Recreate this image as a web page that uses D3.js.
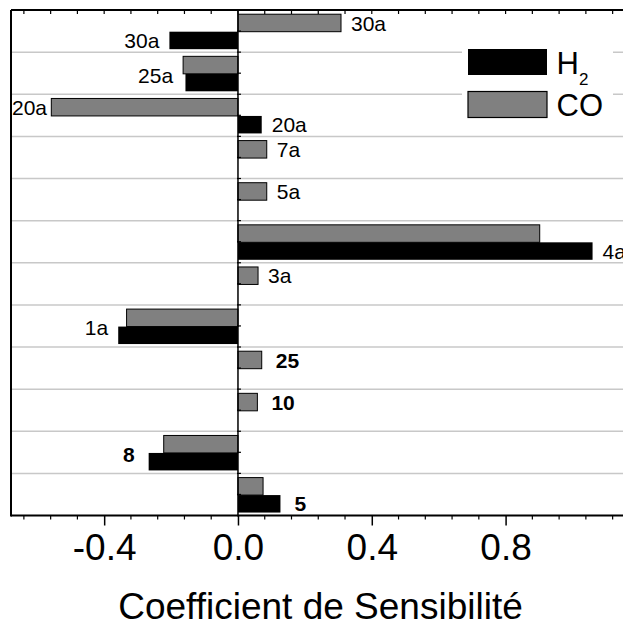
<!DOCTYPE html>
<html>
<head>
<meta charset="utf-8">
<script src="https://cdn.jsdelivr.net/npm/d3@7"></script>
<style>
  html, body { margin: 0; padding: 0; background: #fff; overflow: hidden; }
  svg { display: block; font-family: "Liberation Sans", Arial, sans-serif; }
</style>
</head>
<body>
<svg id="chart" width="623" height="626"></svg>
<script>
// ---- data ----
const categories = ["30a", "25a", "20a", "7a", "5a", "4a", "3a", "1a", "25", "10", "8", "5"];
const seriesNames = ["CO", "H2"];
const coValues = [0.308, -0.164, -0.558, 0.086, 0.086, 0.902, 0.060, -0.333, 0.071, 0.058, -0.222, 0.075];
const h2Values = [-0.205, -0.157, 0.071, 0, 0, 1.060, 0, -0.358, 0, 0, -0.267, 0.127];
const xTicks = [-0.4, 0.0, 0.4, 0.8];
const xTickLabels = ["-0.4", "0.0", "0.4", "0.8"];
// annotations: which category, text, which bar it sits against, bold
const labelCats   = ["30a", "30a", "25a", "20a", "20a", "7a", "5a", "4a", "3a", "1a", "25", "10", "8", "5"];
const labelTexts  = ["30a", "30a", "25a", "20a", "20a", "7a", "5a", "4a", "3a", "1a", "25", "10", "8", "5"];
const labelSeries = ["CO", "H2", "both", "CO", "H2", "CO", "CO", "H2", "CO", "both", "CO", "CO", "both", "H2"];
const labelBold   = [false, false, false, false, false, false, false, false, false, false, true, true, true, true];
const legendNames = ["H2", "CO"];

const values = { CO: coValues, H2: h2Values };
const colors = { CO: "#808080", H2: "#000000" };

const svg = d3.select("#chart");
const plotTop = 10, plotBottom = 515.5, plotLeft = 11;

const x = d3.scaleLinear().domain([-0.68, 1.2]).range([10.5, 639.4]);
const y = d3.scaleBand().domain(categories).range([plotTop, plotBottom]);
const bw = y.bandwidth();
const ySub = d3.scaleBand().domain(seriesNames).range([bw * 0.1, bw * 0.93]);

// gridlines at category boundaries
const bounds = categories.slice(1).map(c => y(c));
svg.append("g").selectAll("line").data(bounds).join("line")
  .attr("x1", plotLeft).attr("x2", 623)
  .attr("y1", d => d).attr("y2", d => d)
  .attr("stroke", "#c8c8c8").attr("stroke-width", 1.5);

// bars
const rows = [];
categories.forEach((c, i) => seriesNames.forEach(s => rows.push({ c, s, v: values[s][i] })));
svg.append("g").selectAll("rect").data(rows.filter(d => d.v !== 0)).join("rect")
  .attr("x", d => Math.min(x(0), x(d.v)))
  .attr("width", d => Math.abs(x(d.v) - x(0)))
  .attr("y", d => y(d.c) + ySub(d.s))
  .attr("height", ySub.bandwidth())
  .attr("fill", d => colors[d.s])
  .attr("stroke", "#000")
  .attr("stroke-width", d => d.s === "CO" ? 1 : 0);

// zero axis line with ticks
const zg = svg.append("g");
zg.append("line").attr("x1", x(0)).attr("x2", x(0)).attr("y1", plotTop).attr("y2", plotBottom + 1)
  .attr("stroke", "#000").attr("stroke-width", 1.5);
const zTicks = [];
categories.forEach(c => { zTicks.push(y(c)); zTicks.push(y(c) + bw / 2); });
zg.selectAll("line.zt").data(zTicks).join("line").attr("class", "zt")
  .attr("x1", x(0) - 1).attr("x2", x(0) + 3)
  .attr("y1", d => d).attr("y2", d => d)
  .attr("stroke", "#000").attr("stroke-width", 1.2);

// frame: top & left
svg.append("line").attr("x1", plotLeft).attr("x2", 623).attr("y1", plotTop).attr("y2", plotTop)
  .attr("stroke", "#000").attr("stroke-width", 2);
svg.append("line").attr("x1", plotLeft).attr("x2", plotLeft).attr("y1", plotTop).attr("y2", plotBottom + 1)
  .attr("stroke", "#000").attr("stroke-width", 2);

// minor ticks (top, inside)
const minor = d3.range(-0.64, 1.2001, 0.08).map(v => +v.toFixed(2));
svg.append("g").selectAll("line").data(minor).join("line")
  .attr("x1", d => x(d)).attr("x2", d => x(d))
  .attr("y1", plotTop).attr("y2", plotTop + 4)
  .attr("stroke", "#000").attr("stroke-width", 1.2);

// bottom axis
const xAxis = d3.axisBottom(x).tickValues(xTicks).tickFormat((d, i) => xTickLabels[i]).tickSize(10).tickPadding(8);
const ax = svg.append("g").attr("transform", `translate(0,${plotBottom})`).call(xAxis);
ax.select(".domain").attr("stroke-width", 2).attr("d", `M${plotLeft},0H623`);
ax.selectAll(".tick line").attr("stroke-width", 1.5);
ax.selectAll(".tick text").attr("font-size", 37).attr("fill", "#000")
  .attr("font-family", "'Liberation Sans', Arial, sans-serif").attr("dy", "0.72em");
svg.append("g").selectAll("line").data(minor.filter(v => !xTicks.some(t => Math.abs(t - v) < 1e-6))).join("line")
  .attr("x1", d => x(d)).attr("x2", d => x(d))
  .attr("y1", plotBottom).attr("y2", plotBottom + 4)
  .attr("stroke", "#000").attr("stroke-width", 1.2);

// axis title
svg.append("text").attr("x", 320.5).attr("y", 619).attr("text-anchor", "middle")
  .attr("font-size", 37).attr("fill", "#000").text("Coefficient de Sensibilité");

// bar annotations
const lg = svg.append("g");
labelTexts.forEach((t, i) => {
  const ci = categories.indexOf(labelCats[i]);
  const s = labelSeries[i];
  const fs = 21;
  let end, cy;
  if (s === "both") {
    end = Math.min(coValues[ci], h2Values[ci]);
    cy = y(labelCats[i]) + bw / 2 + 2;
  } else {
    end = values[s][ci];
    cy = y(labelCats[i]) + ySub(s) + ySub.bandwidth() / 2;
  }
  const gap = labelBold[i] ? 14 : 10;
  const right = end >= 0;
  const txt = lg.append("text")
    .attr("font-size", fs)
    .attr("font-weight", labelBold[i] ? "bold" : "normal")
    .attr("fill", "#000")
    .attr("y", cy + fs * 0.36)
    .text(t);
  const w = txt.node().getComputedTextLength();
  let xs = right ? x(end) + gap : x(end) - gap - w;
  if (xs < plotLeft + 1) xs = plotLeft + 1;
  txt.attr("x", xs);
});

// legend
const leg = svg.append("g");
leg.append("rect").attr("x", 462).attr("y", 44).attr("width", 151).attr("height", 78).attr("fill", "#fff");
legendNames.forEach((n, i) => {
  const yy = 49 + i * 42.5;
  leg.append("rect").attr("x", 468).attr("y", yy).attr("width", 79).attr("height", 26)
    .attr("fill", colors[n]).attr("stroke", "#000").attr("stroke-width", n === "CO" ? 1.2 : 0);
  const t = leg.append("text").attr("x", 556.5).attr("y", yy + 24.5).attr("font-size", 31).attr("fill", "#000");
  if (n === "H2") {
    t.append("tspan").text("H");
    t.append("tspan").attr("font-size", 17).attr("dy", 11.5).text("2");
  } else {
    t.text(n);
  }
});
</script>
</body>
</html>
